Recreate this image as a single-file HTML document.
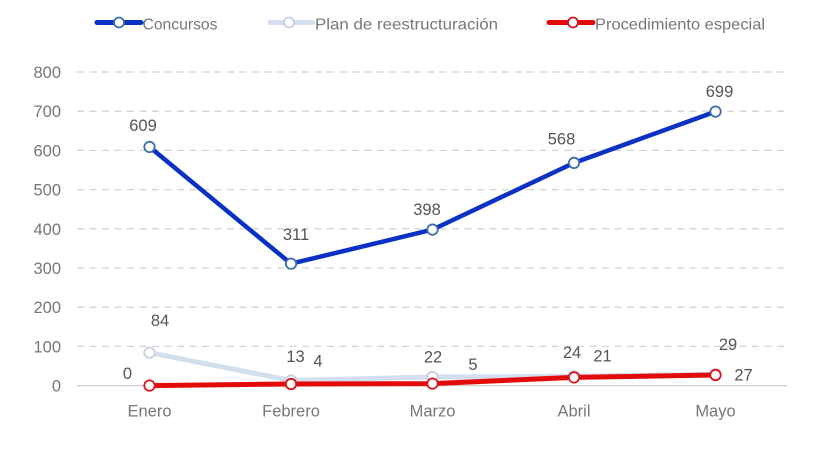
<!DOCTYPE html>
<html>
<head>
<meta charset="utf-8">
<style>
  html,body{margin:0;padding:0;background:#fff;}
  svg{display:block;}
  text{font-family:"Liberation Sans",sans-serif;}
</style>
</head>
<body>
<svg width="820" height="450" viewBox="0 0 820 450" xmlns="http://www.w3.org/2000/svg">
  <!-- Legend -->
  <g>
    <line x1="97" y1="22.5" x2="141" y2="22.5" stroke="#0a31c4" stroke-width="5" stroke-linecap="round"/>
    <circle cx="119" cy="22.5" r="5" fill="#fff" stroke="#3d6cab" stroke-width="1.8"/>
    <text x="142.5" y="29.5" font-size="16" fill="#777" textLength="75" lengthAdjust="spacingAndGlyphs">Concursos</text>

    <line x1="270" y1="22.5" x2="313" y2="22.5" stroke="#d3dfef" stroke-width="5" stroke-linecap="round"/>
    <circle cx="289" cy="22.5" r="5" fill="#fff" stroke="#c7d0dc" stroke-width="1.8"/>
    <text x="315" y="29.5" font-size="16" fill="#777" textLength="183" lengthAdjust="spacingAndGlyphs">Plan de reestructuración</text>

    <line x1="549" y1="22.5" x2="593" y2="22.5" stroke="#e30a0a" stroke-width="5" stroke-linecap="round"/>
    <circle cx="573" cy="22.5" r="5" fill="#fff" stroke="#d8141c" stroke-width="1.8"/>
    <text x="595" y="29.5" font-size="16" fill="#777" textLength="170" lengthAdjust="spacingAndGlyphs">Procedimiento especial</text>
  </g>

  <!-- Gridlines -->
  <g stroke="#d4d4d4" stroke-width="1.3" stroke-dasharray="7 5.5">
    <line x1="77" y1="72" x2="786" y2="72"/>
    <line x1="77" y1="111.2" x2="786" y2="111.2"/>
    <line x1="77" y1="150.4" x2="786" y2="150.4"/>
    <line x1="77" y1="189.6" x2="786" y2="189.6"/>
    <line x1="77" y1="228.8" x2="786" y2="228.8"/>
    <line x1="77" y1="268" x2="786" y2="268"/>
    <line x1="77" y1="307.2" x2="786" y2="307.2"/>
    <line x1="77" y1="346.4" x2="786" y2="346.4"/>
  </g>
  <line x1="77" y1="385.6" x2="787" y2="385.6" stroke="#cfcfcf" stroke-width="1.3"/>

  <!-- Y labels -->
  <g font-size="16.5" fill="#777" text-anchor="end">
    <text x="61" y="78">800</text>
    <text x="61" y="117.2">700</text>
    <text x="61" y="156.4">600</text>
    <text x="61" y="195.6">500</text>
    <text x="61" y="234.8">400</text>
    <text x="61" y="274">300</text>
    <text x="61" y="313.2">200</text>
    <text x="61" y="352.4">100</text>
    <text x="61" y="391.6">0</text>
  </g>

  <!-- X labels -->
  <g font-size="16.5" fill="#777" text-anchor="middle">
    <text x="149.5" y="416.5">Enero</text>
    <text x="291" y="416.5">Febrero</text>
    <text x="432.5" y="416.5">Marzo</text>
    <text x="574" y="416.5">Abril</text>
    <text x="715.5" y="416.5">Mayo</text>
  </g>

  <!-- Plan de reestructuración -->
  <polyline points="149.5,352.7 291,380.5 432.5,377 574,376.2 715.5,374.2" fill="none" stroke="#d3dfef" stroke-width="5" stroke-linejoin="round"/>
  <g fill="#fff" stroke="#c7d0dc" stroke-width="1.8">
    <circle cx="149.5" cy="352.7" r="5.2"/>
    <circle cx="291" cy="380.5" r="5.2"/>
    <circle cx="432.5" cy="377" r="5.2"/>
    <circle cx="574" cy="376.2" r="5.2"/>
    <circle cx="715.5" cy="374.2" r="5.2"/>
  </g>

  <!-- Procedimiento especial -->
  <polyline points="149.5,385.6 291,384 432.5,383.6 574,377.4 715.5,375" fill="none" stroke="#e30a0a" stroke-width="5" stroke-linejoin="round"/>
  <g fill="#fff" stroke="#d8141c" stroke-width="1.8">
    <circle cx="149.5" cy="385.6" r="5.2"/>
    <circle cx="291" cy="384" r="5.2"/>
    <circle cx="432.5" cy="383.6" r="5.2"/>
    <circle cx="574" cy="377.4" r="5.2"/>
    <circle cx="715.5" cy="375" r="5.2"/>
  </g>

  <!-- Concursos -->
  <polyline points="149.5,146.9 291,263.7 432.5,229.6 574,162.9 715.5,111.6" fill="none" stroke="#0a31c4" stroke-width="4.5" stroke-linejoin="round"/>
  <g fill="#fff" stroke="#3d6cab" stroke-width="1.8">
    <circle cx="149.5" cy="146.9" r="5.2"/>
    <circle cx="291" cy="263.7" r="5.2"/>
    <circle cx="432.5" cy="229.6" r="5.2"/>
    <circle cx="574" cy="162.9" r="5.2"/>
    <circle cx="715.5" cy="111.6" r="5.2"/>
  </g>

  <!-- Data labels -->
  <g font-size="16.5" fill="#555" text-anchor="middle">
    <text x="143" y="131">609</text>
    <text x="296" y="240">311</text>
    <text x="427" y="215">398</text>
    <text x="561.5" y="144.5">568</text>
    <text x="719.5" y="97">699</text>

    <text x="160" y="326">84</text>
    <text x="295.5" y="362">13</text>
    <text x="433" y="362.5">22</text>
    <text x="572" y="358">24</text>
    <text x="728" y="350">29</text>

    <text x="127.5" y="379">0</text>
    <text x="318" y="366.5">4</text>
    <text x="473" y="370">5</text>
    <text x="602.5" y="361.5">21</text>
    <text x="743.5" y="380.5">27</text>
  </g>
</svg>
</body>
</html>
